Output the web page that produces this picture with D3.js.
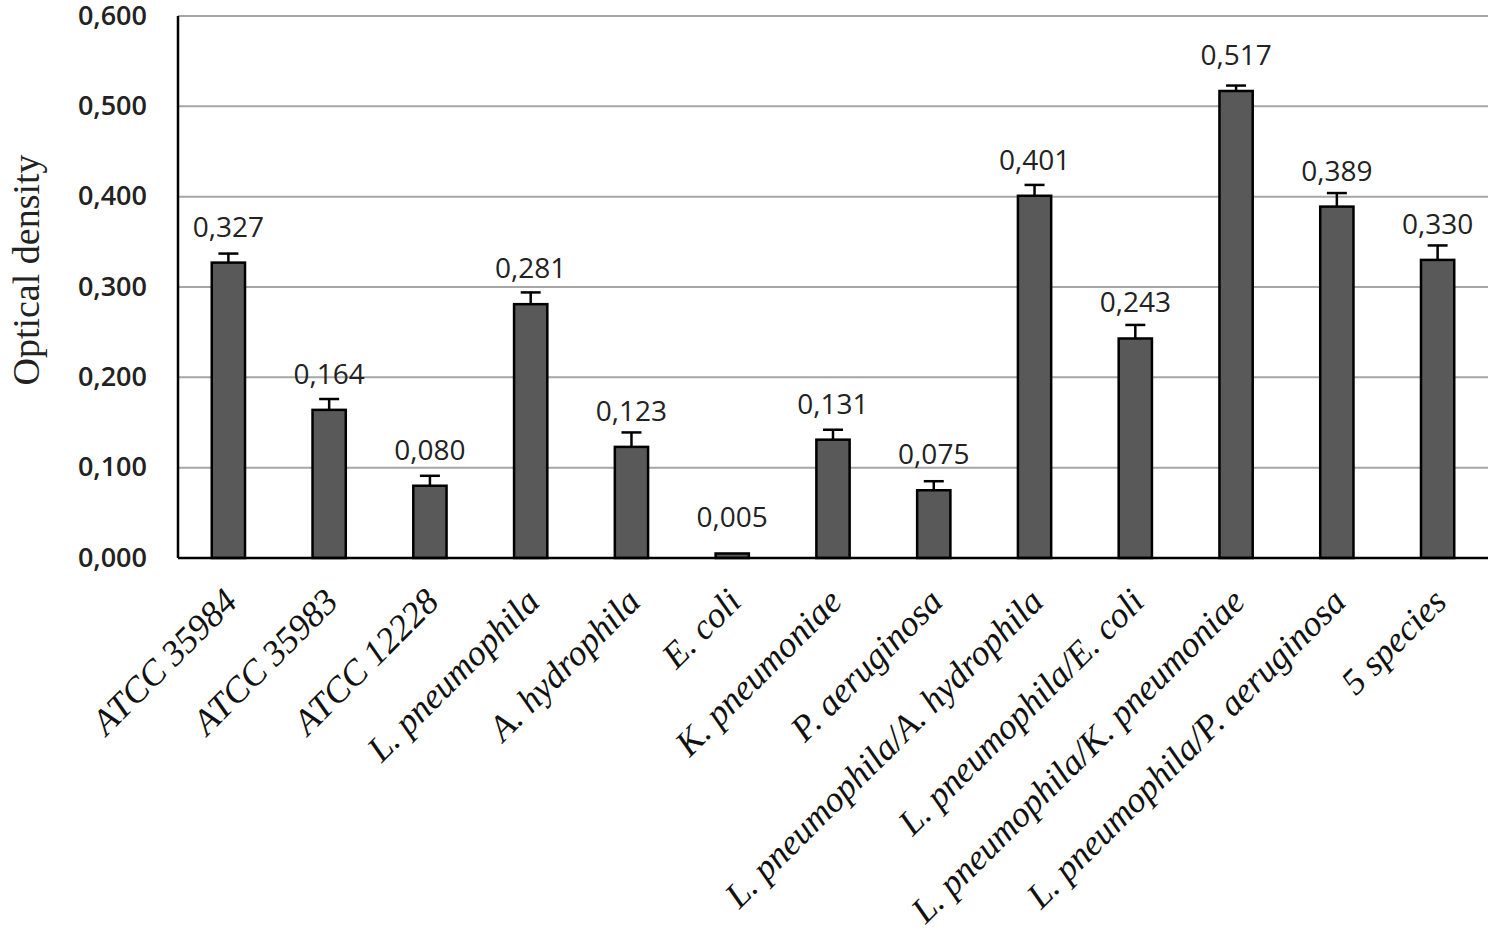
<!DOCTYPE html>
<html>
<head>
<meta charset="utf-8">
<script src="https://cdn.jsdelivr.net/npm/d3@7"></script>
<style>
	body { margin: 0; background: #fff; }
</style>
</head>
<body>
<div id="root"></div>
<script>
const categories = ["ATCC 35984", "ATCC 35983", "ATCC 12228", "L. pneumophila", "A. hydrophila",
	"E. coli", "K. pneumoniae", "P. aeruginosa", "L. pneumophila/A. hydrophila",
	"L. pneumophila/E. coli", "L. pneumophila/K. pneumoniae", "L. pneumophila/P. aeruginosa", "5 species"];
const values = [0.327, 0.164, 0.080, 0.281, 0.123, 0.005, 0.131, 0.075, 0.401, 0.243, 0.517, 0.389, 0.330];
const errors = [0.010, 0.012, 0.011, 0.013, 0.016, 0.000, 0.011, 0.010, 0.012, 0.015, 0.006, 0.015, 0.016];
const yTicks = [0, 0.1, 0.2, 0.3, 0.4, 0.5, 0.6];

const width = 1495;
const height = 937;
const plotLeft = 178, plotRight = 1488, plotTop = 16, plotBottom = 558;

const fmt = (v) => d3.format(".3f")(v).replace(".", ",");

const data = categories.map((c, i) => ({ name: c, value: values[i], err: errors[i] }));

// scales
const x = d3.scaleBand()
	.domain(categories)
	.range([plotLeft, plotRight])
	.paddingInner(0.67)
	.paddingOuter(0.335);

const y = d3.scaleLinear()
	.domain([0, 0.6])
	.range([plotBottom, plotTop]);

const svg = d3.select("#root")
	.append("svg")
		.attr("width", width)
		.attr("height", height);

// gridlines
svg.append("g")
	.selectAll("line")
	.data(yTicks.slice(1)).enter()
	.append("line")
		.attr("x1", plotLeft)
		.attr("x2", plotRight)
		.attr("y1", d => y(d))
		.attr("y2", d => y(d))
		.style("stroke", "#a6a6a6")
		.style("stroke-width", 2);

// y axis labels
const yAxis = d3.axisLeft(y)
	.tickValues(yTicks)
	.tickFormat(fmt)
	.tickSize(0)
	.tickPadding(31);

svg.append("g")
	.attr("transform", `translate(${plotLeft},0)`)
	.call(yAxis)
	.call(g => g.select(".domain").remove())
	.selectAll("text")
		.attr("dy", "0.3em")
		.style("font-family", "'Open Sans', sans-serif")
		.style("font-size", "27px")
		.style("font-weight", 600)
		.style("fill", "#222");

// bars
const cx = d => x(d.name) + x.bandwidth() / 2;

svg.append("g")
	.selectAll("rect")
	.data(data).enter()
	.append("rect")
		.attr("x", d => x(d.name))
		.attr("y", d => y(d.value))
		.attr("width", x.bandwidth())
		.attr("height", d => plotBottom - y(d.value))
		.style("fill", "#595959")
		.style("stroke", "#000")
		.style("stroke-width", 2.5);

// error bars (upper only)
const errs = svg.append("g")
	.selectAll(".err")
	.data(data.filter(d => d.err > 0)).enter()
	.append("g")
		.attr("class", "err")
		.style("stroke", "#000")
		.style("stroke-width", 2.5);

errs.append("line")
	.attr("x1", cx)
	.attr("x2", cx)
	.attr("y1", d => y(d.value))
	.attr("y2", d => y(d.value + d.err));

errs.append("line")
	.attr("x1", d => cx(d) - 10)
	.attr("x2", d => cx(d) + 10)
	.attr("y1", d => y(d.value + d.err))
	.attr("y2", d => y(d.value + d.err));

// axes lines
svg.append("line")
	.attr("x1", plotLeft).attr("x2", plotLeft)
	.attr("y1", plotTop).attr("y2", plotBottom)
	.style("stroke", "#000")
	.style("stroke-width", 2.5);

svg.append("line")
	.attr("x1", plotLeft).attr("x2", plotRight)
	.attr("y1", plotBottom).attr("y2", plotBottom)
	.style("stroke", "#000")
	.style("stroke-width", 2.5);

// value labels
svg.append("g")
	.selectAll("text")
	.data(data).enter()
	.append("text")
		.text(d => fmt(d.value))
		.attr("x", cx)
		.attr("y", d => y(d.value) - 26)
		.style("font-family", "'Open Sans', sans-serif")
		.style("font-size", "28px")
		.style("fill", "#222")
		.style("text-anchor", "middle");

// category labels
svg.append("g")
	.selectAll("text")
	.data(data).enter()
	.append("text")
		.text(d => d.name)
		.attr("transform", d => `translate(${cx(d) - 5},588) rotate(-45)`)
		.attr("dy", "0.62em")
		.style("font-family", "'Liberation Serif', 'Times New Roman', serif")
		.style("font-style", "italic")
		.style("font-size", "36px")
		.style("fill", "#111")
		.style("text-anchor", "end");

// y title
svg.append("text")
	.text("Optical density")
	.attr("transform", "translate(39,270) rotate(-90)")
	.style("font-family", "'Liberation Serif', 'Times New Roman', serif")
	.style("font-size", "38px")
	.style("fill", "#222")
	.style("text-anchor", "middle");
</script>
</body>
</html>
